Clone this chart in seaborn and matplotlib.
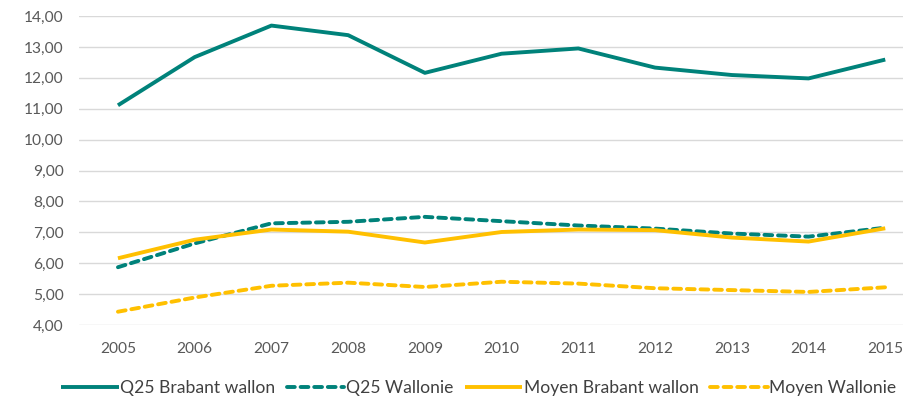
import matplotlib
matplotlib.use("Agg")
import matplotlib.pyplot as plt
from matplotlib.ticker import FuncFormatter, MultipleLocator
import seaborn as sns
import pandas as pd

years = [2005, 2006, 2007, 2008, 2009, 2010, 2011, 2012, 2013, 2014, 2015]
q25_brabant_wallon = [11.11, 12.67, 13.69, 13.38, 12.16, 12.78, 12.95, 12.33, 12.09, 11.98, 12.59]
q25_wallonie = [5.87, 6.64, 7.29, 7.34, 7.50, 7.36, 7.22, 7.12, 6.96, 6.86, 7.15]
moyen_brabant_wallon = [6.16, 6.76, 7.09, 7.02, 6.67, 7.01, 7.09, 7.07, 6.83, 6.70, 7.13]
moyen_wallonie = [4.43, 4.89, 5.27, 5.37, 5.23, 5.40, 5.34, 5.19, 5.13, 5.07, 5.22]

series_names = ["Q25 Brabant wallon", "Q25 Wallonie", "Moyen Brabant wallon", "Moyen Wallonie"]
series_values = [q25_brabant_wallon, q25_wallonie, moyen_brabant_wallon, moyen_wallonie]

TEAL = "#00827A"
GOLD = "#FFC000"
colors = [TEAL, TEAL, GOLD, GOLD]
dashed = [False, True, False, True]

df = pd.concat(
    [pd.DataFrame({"annee": years, "valeur": vals, "serie": name})
     for name, vals in zip(series_names, series_values)],
    ignore_index=True,
)

sns.set_theme(style="white")
plt.rcParams["font.family"] = ["Lato", "DejaVu Sans"]

fig = plt.figure(figsize=(9.06, 3.98), dpi=100)
ax = fig.add_axes([0.087, 0.1834, 0.910, 0.7764])

for name, col, dsh in zip(series_names, colors, dashed):
    sub = df[df["serie"] == name]
    sns.lineplot(data=sub, x="annee", y="valeur", ax=ax, color=col,
                 linewidth=2.8, label=name, zorder=3)
    line = ax.get_lines()[-1]
    if dsh:
        line.set_dashes((2.0, 1.5))
        line.set_dash_capstyle("round")
    else:
        line.set_solid_capstyle("butt")

ax.set_xlim(2004.49, 2015.235)
ax.set_ylim(4, 14)
ax.yaxis.set_major_locator(MultipleLocator(1))
ax.set_xticks(years)
ax.set_xticklabels([str(y) for y in years])
ax.yaxis.set_major_formatter(FuncFormatter(lambda v, p: f"{v:.2f}".replace(".", ",")))

ax.grid(axis="y", color="#D9D9D9", linewidth=1.0, zorder=0)
ax.grid(axis="x", visible=False)
for s in ax.spines.values():
    s.set_visible(False)
ax.tick_params(axis="both", length=0, labelsize=11.2, colors="#595959")
ax.tick_params(axis="x", pad=12)
ax.tick_params(axis="y", pad=11)
ax.set_xlabel("")
ax.set_ylabel("")

leg = ax.legend(loc="center", bbox_to_anchor=(0.485, -0.204), ncol=4,
                frameon=False, fontsize=12.6, handlelength=3.3,
                handletextpad=0.08, columnspacing=0.65, borderaxespad=0)
for t in leg.get_texts():
    t.set_color("#404040")

fig.savefig("out.png", dpi=100)
